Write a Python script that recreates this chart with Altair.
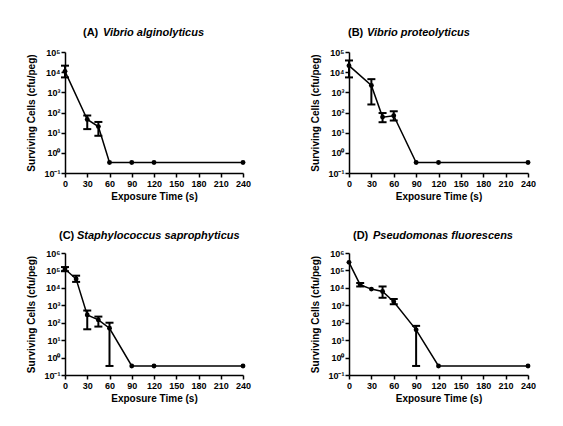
import altair as alt
import pandas as pd

FONT = "Liberation Sans"

# ---------------- data ----------------
panel_letters = ["(A)", "(B)", "(C)", "(D)"]
panel_species = ["Vibrio alginolyticus", "Vibrio proteolyticus",
                 "Staphylococcus saprophyticus", "Pseudomonas fluorescens"]
x_ticks = [0, 30, 60, 90, 120, 150, 180, 210, 240]

time_A = [0, 30, 45, 60, 90, 120, 240]
cells_A = [11000, 45, 20, 0.33, 0.33, 0.33, 0.33]
err_time_A = [0, 30, 45]
err_low_A = [5500, 15, 7]
err_high_A = [21000, 71, 34]

time_B = [0, 30, 45, 60, 90, 120, 240]
cells_B = [21000, 2200, 59, 69, 0.33, 0.33, 0.33]
err_time_B = [0, 30, 45, 60]
err_low_B = [5500, 250, 33, 40]
err_high_B = [38000, 4500, 94, 115]

time_C = [0, 15, 30, 45, 60, 90, 120, 240]
cells_C = [120000, 32000, 280, 145, 48, 0.33, 0.33, 0.33]
err_time_C = [0, 15, 30, 45, 60]
err_low_C = [90000, 22000, 42, 60, 0.33]
err_high_C = [156000, 50000, 500, 224, 100]

time_D = [0, 15, 30, 45, 60, 90, 120, 240]
cells_D = [290000, 15000, 8500, 6200, 1600, 39, 0.33, 0.33]
err_time_D = [15, 45, 60, 90]
err_low_D = [12000, 2700, 1150, 0.33]
err_high_D = [19000, 12000, 2300, 66]

SUP = "['⁻¹','⁰','¹','²','³','⁴','⁵','⁶']"
LABEL_EXPR = "'10' + " + SUP + "[round(log(datum.value)/LN10) + 1]"


def panel(idx, t, v, et, elo, ehi, top_exp, width, height, tx, sx, ty):
    pts = pd.DataFrame({"t": t, "v": v})
    err = pd.DataFrame({"t": et, "lo": elo, "hi": ehi})
    ydom = [0.1, 10 ** top_exp]
    yvals = [10 ** k for k in range(-1, top_exp + 1)]
    xscale = alt.Scale(domain=[0, 240], nice=False, zero=False)
    yscale = alt.Scale(type="log", domain=ydom, nice=False)

    xaxis = alt.Axis(values=x_ticks, title="Exposure Time (s)", grid=False,
                     tickSize=4, tickWidth=1.5, domainWidth=1.5,
                     labelPadding=2, titlePadding=3, labelOverlap=False,
                     labelFlush=False,
                     labelFontSize=9, titleFontSize=10)
    yaxis = alt.Axis(values=yvals, labelExpr=LABEL_EXPR,
                     title="Surviving Cells (cfu/peg)", grid=False,
                     tickSize=4, tickWidth=1.5, domainWidth=1.5,
                     labelPadding=1, labelFontSize=9, titleFontSize=10,
                     labelOverlap=False, labelFlush=False,
                     titleX=-34, titleBaseline="middle")

    X = alt.X("t:Q", scale=xscale, axis=xaxis)

    base = alt.Chart(pts).encode(
        x=X, y=alt.Y("v:Q", scale=yscale, axis=yaxis))
    line = base.mark_line(color="black", strokeWidth=1.5)
    dots = base.mark_circle(color="black", size=24, opacity=1)

    ebase = alt.Chart(err).encode(x=X)
    bars = ebase.mark_rule(color="black", strokeWidth=2).encode(
        y=alt.Y("lo:Q", scale=yscale, axis=yaxis), y2="hi:Q")
    cap_lo = ebase.mark_tick(color="black", orient="horizontal", size=8,
                             thickness=2, opacity=1).encode(
        y=alt.Y("lo:Q", scale=yscale, axis=yaxis))
    cap_hi = ebase.mark_tick(color="black", orient="horizontal", size=8,
                             thickness=2, opacity=1).encode(
        y=alt.Y("hi:Q", scale=yscale, axis=yaxis))

    lab = pd.DataFrame({"letter": [panel_letters[idx]],
                        "species": [panel_species[idx]]})
    t_letter = alt.Chart(lab).mark_text(
        align="left", baseline="middle", font=FONT, fontSize=11,
        fontWeight="bold", color="black").encode(
        x=alt.value(tx), y=alt.value(ty), text="letter:N")
    t_species = alt.Chart(lab).mark_text(
        align="left", baseline="middle", font=FONT, fontSize=11,
        fontWeight="bold", fontStyle="italic", color="black").encode(
        x=alt.value(sx), y=alt.value(ty), text="species:N")

    return alt.layer(line, bars, cap_lo, cap_hi, dots, t_letter,
                     t_species).properties(width=width, height=height)


pA = panel(0, time_A, cells_A, err_time_A, err_low_A, err_high_A, 5,
           178, 121, 18, 38, -19)
pB = panel(1, time_B, cells_B, err_time_B, err_low_B, err_high_B, 5,
           179, 121, -1, 18, -19)
pC = panel(2, time_C, cells_C, err_time_C, err_low_C, err_high_C, 6,
           178, 122, -6, 12, -17)
pD = panel(3, time_D, cells_D, err_time_D, err_low_D, err_high_D, 6,
           179, 122, 4, 24, -17)

chart = alt.concat(
    pA, pB, pC, pD, columns=2,
    spacing=alt.RowColnumber(row=80, column=106),
    bounds="flush",
    padding={"left": 17, "top": 19, "right": 10, "bottom": 10},
).configure(background="white").configure_view(strokeWidth=0).configure_axis(
    labelFont=FONT, titleFont=FONT, labelFontWeight="bold",
    titleFontWeight="bold", labelColor="black", titleColor="black",
    domainColor="black", tickColor="black",
)

chart.save("out.html", embed_options={"renderer": "svg", "actions": False})
